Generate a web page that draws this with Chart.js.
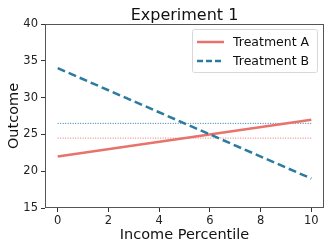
<!DOCTYPE html>
<html>
<head>
<meta charset="utf-8">
<script src="https://cdn.jsdelivr.net/npm/chart.js@4/dist/chart.umd.min.js"></script>
<style>
  html, body { margin: 0; padding: 0; background: #fff; }
  #wrap { width: 332px; height: 249px; }
</style>
</head>
<body>
<div id="wrap"><canvas id="grafico" width="332" height="249"></canvas></div>
<script>
// Datos del gráfico
const percentiles = [0, 10];
const tratamientoA = [22, 27];
const tratamientoB = [34, 19];
const mediaA = 24.5;
const mediaB = 26.5;
const ticksX = [0, 2, 4, 6, 8, 10];
const ticksY = [15, 20, 25, 30, 35, 40];

const colorA = '#e8736c';
const colorB = '#2b7ba0';
const fuente = "'DejaVu Sans', sans-serif";

const puntos = (xs, ys) => xs.map((x, i) => ({ x: x, y: ys[i] }));

// Marco, título y leyenda al estilo matplotlib
const marcoYLeyenda = {
    id: 'marcoYLeyenda',
    afterDraw(chart) {
        const ctx = chart.ctx;
        const a = chart.chartArea;
        ctx.save();
        ctx.strokeStyle = '#555';
        ctx.lineWidth = 1;
        ctx.strokeRect(a.left + 0.5, a.top + 0.5, a.right - a.left - 1, a.bottom - a.top - 1);

        // título centrado sobre el área del gráfico
        ctx.fillStyle = '#111';
        ctx.font = '16px ' + fuente;
        ctx.textAlign = 'center';
        ctx.textBaseline = 'alphabetic';
        ctx.fillText('Experiment 1', (a.left + a.right) / 2, 20);
        ctx.textAlign = 'left';

        // leyenda
        const x0 = 192, y0 = 29, w = 125, h = 43;
        ctx.fillStyle = 'rgba(255,255,255,0.85)';
        ctx.strokeStyle = '#d8d8d8';
        ctx.beginPath();
        ctx.roundRect(x0 + 0.5, y0 + 0.5, w, h, 2);
        ctx.fill();
        ctx.stroke();

        const filas = [
            { texto: 'Treatment A', color: colorA, dash: [] },
            { texto: 'Treatment B', color: colorB, dash: [6, 3] }
        ];
        filas.forEach((f, i) => {
            const y = y0 + 13 + i * 19;
            ctx.strokeStyle = f.color;
            ctx.lineWidth = 2.5;
            ctx.setLineDash(f.dash);
            ctx.beginPath();
            ctx.moveTo(x0 + 5, y);
            ctx.lineTo(x0 + 32, y);
            ctx.stroke();
            ctx.setLineDash([]);
            ctx.fillStyle = '#111';
            ctx.font = '12.5px ' + fuente;
            ctx.textBaseline = 'middle';
            ctx.fillText(f.texto, x0 + 41, y + 1);
        });
        ctx.restore();
    }
};

new Chart(document.getElementById('grafico').getContext('2d'), {
    type: 'line',
    data: {
        datasets: [
            {
                label: 'Treatment A',
                data: puntos(percentiles, tratamientoA),
                borderColor: colorA,
                borderWidth: 2.5,
                pointRadius: 0,
                order: 1
            },
            {
                label: 'Treatment B',
                data: puntos(percentiles, tratamientoB),
                borderColor: colorB,
                borderWidth: 2.5,
                borderDash: [8, 4],
                pointRadius: 0,
                order: 0
            },
            {
                label: 'Media A',
                data: puntos(percentiles, [mediaA, mediaA]),
                borderColor: colorA,
                borderWidth: 1,
                borderDash: [1, 1.5],
                pointRadius: 0,
                order: 2
            },
            {
                label: 'Media B',
                data: puntos(percentiles, [mediaB, mediaB]),
                borderColor: colorB,
                borderWidth: 1,
                borderDash: [1, 1.5],
                pointRadius: 0,
                order: 2
            }
        ]
    },
    options: {
        responsive: false,
        animation: false,
        layout: { padding: { left: 0, right: 8, top: 24, bottom: 0 } },
        plugins: {
            legend: { display: false },
            tooltip: { enabled: false },
            title: { display: false }
        },
        scales: {
            x: {
                type: 'linear',
                min: -0.5,
                max: 10.5,
                afterBuildTicks: eje => { eje.ticks = ticksX.map(v => ({ value: v })); },
                afterFit: eje => { eje.height = 41; },
                grid: { drawOnChartArea: false, tickLength: 4, color: '#333' },
                border: { display: false },
                ticks: { color: '#222', font: { family: fuente, size: 11.5 }, padding: 2, maxRotation: 0 },
                title: {
                    display: true,
                    text: 'Income Percentile',
                    color: '#111',
                    font: { family: fuente, size: 14.5 },
                    padding: { top: 0, bottom: 5 }
                }
            },
            y: {
                min: 15,
                max: 40,
                afterBuildTicks: eje => { eje.ticks = ticksY.map(v => ({ value: v })); },
                afterFit: eje => { eje.width = 45; },
                grid: { drawOnChartArea: false, tickLength: 4, color: '#333' },
                border: { display: false },
                ticks: { color: '#222', font: { family: fuente, size: 11.5 }, padding: 3 },
                title: {
                    display: true,
                    text: 'Outcome',
                    color: '#111',
                    font: { family: fuente, size: 14.5 },
                    padding: { top: 6, bottom: 2 }
                }
            }
        }
    },
    plugins: [marcoYLeyenda]
});
</script>
</body>
</html>
